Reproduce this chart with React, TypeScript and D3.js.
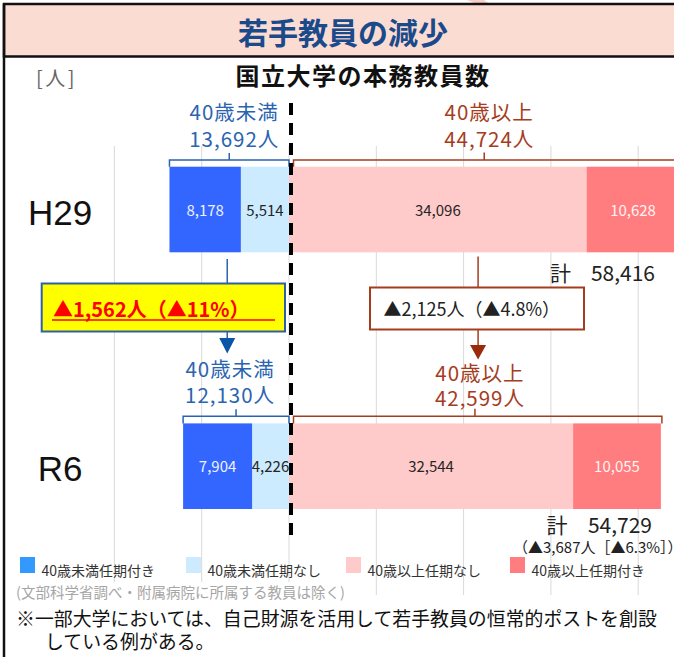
import React from "react";
import * as d3 from "d3";

// ---- data ----
const categories = ["H29", "R6"];
const under40Fixed = [8178, 7904]; // 40歳未満任期付き
const under40Perm = [5514, 4226]; // 40歳未満任期なし
const over40Perm = [34096, 32544]; // 40歳以上任期なし
const over40Fixed = [10628, 10055]; // 40歳以上任期付き
const under40Totals = [13692, 12130];
const over40Totals = [44724, 42599];
const grandTotals = [58416, 54729];
const gridTicks = [-20000, -10000, 0, 10000, 20000, 30000, 40000];
const legendLabels = ["40歳未満任期付き", "40歳未満任期なし", "40歳以上任期なし", "40歳以上任期付き"];
const under40Change = "▲1,562人（▲11%）";
const over40Change = "▲2,125人（▲4.8%）";
const totalChange = "（▲3,687人［▲6.3%］）";

// ---- styling / layout ----
const W = 674;
const H = 657;
const JP = "'Noto Sans CJK JP', 'Noto Sans', sans-serif";
const keys = ["u40perm", "u40fixed", "o40perm", "o40fixed"];
const barColors: Record<string, string> = {
  u40fixed: "#3366ff",
  u40perm: "#ccebff",
  o40perm: "#ffcaca",
  o40fixed: "#ff7c7f",
};
const labelColors: Record<string, string> = {
  u40fixed: "#eef2ff",
  u40perm: "#262626",
  o40perm: "#262626",
  o40fixed: "#fff4f4",
};
const legendKeys = ["u40fixed", "u40perm", "o40perm", "o40fixed"];
const legendColors = ["#3399ff", "#ccebff", "#ffcaca", "#ff7c7f"];
const legendX = [20, 186, 346, 510];
const BLUE = "#2a64b0";
const BROWN = "#a53c1e";
const fmt = d3.format(",");

export default function App() {
  const x = d3.scaleLinear().domain([0, 10000]).range([289, 376.3]);
  const y = d3.scalePoint<string>().domain(categories).range([209.5, 466.2]);
  const barH = 85.6;

  const rows = categories.map((c, i) => ({
    cat: c,
    u40perm: -under40Perm[i],
    u40fixed: -under40Fixed[i],
    o40perm: over40Perm[i],
    o40fixed: over40Fixed[i],
  }));
  const series = d3
    .stack<any>()
    .keys(keys)
    .offset(d3.stackOffsetDiverging)(rows);

  const zeroX = x(0);
  const u40Center = (i: number) => (x(-under40Totals[i]) + zeroX) / 2;
  const o40Center = (i: number) => (zeroX + x(over40Totals[i])) / 2;
  const bracketY = [160, 416.3];
  const groupLabelBase = [
    { u: [120, 146.5], o: [120, 146.5], du: 5, do: 5 },
    { u: [377, 403], o: [381, 406], du: -6, do: 5 },
  ];

  const blueX = u40Center(0) - 2;
  const brownX = (o40Center(0) + o40Center(1)) / 2 - 1.5;

  return (
    <svg
      width={W}
      height={H}
      style={{ position: "absolute", left: 0, top: 0, background: "#fff" }}
      fontFamily={JP}
    >
      {/* title box */}
      <polygon points="467,0 484,0 491,5 479,5" fill="#f8cfc6" />
      <rect x={4} y={4} width={W + 10} height={52.5} fill="#fbdcd3" stroke="#111" strokeWidth={2.5} />
      <text x={343} y={44} textAnchor="middle" fontSize={30} fontWeight={700} fill="#1b4a8a">
        若手教員の減少
      </text>
      <line x1={4} y1={4} x2={4} y2={H} stroke="#111" strokeWidth={2.5} />

      {/* chart title */}
      <text x={36} y={86} fontSize={20} fill="#666" letterSpacing={2.5}>
        [人]
      </text>
      <text x={363} y={85} textAnchor="middle" fontSize={24} fontWeight={700} fill="#111" letterSpacing={1.5}>
        国立大学の本務教員数
      </text>

      {/* gridlines */}
      {gridTicks.map((t) => (
        <line key={t} x1={x(t)} x2={x(t)} y1={146} y2={595} stroke="#d9d9d9" strokeWidth={1} />
      ))}

      {/* bars */}
      {series.map((s) =>
        s.map((d, i) => {
          const x0 = x(Math.min(d[0], d[1]));
          const x1 = x(Math.max(d[0], d[1]));
          const cy = y(categories[i])!;
          const val = Math.abs(d[1] - d[0]);
          return (
            <g key={s.key + i}>
              <rect x={x0} y={cy - barH / 2} width={x1 - x0} height={barH} fill={barColors[s.key]} />
              <text
                x={(x0 + x1) / 2}
                y={cy + 6}
                textAnchor="middle"
                fontSize={15}
                fill={labelColors[s.key]}
              >
                {fmt(val)}
              </text>
            </g>
          );
        })
      )}

      {/* brackets & group labels */}
      {categories.map((c, i) => {
        const by = bracketY[i];
        const top = y(c)! - barH / 2;
        const ux0 = x(-under40Totals[i]);
        const ox1 = x(over40Totals[i]) + 1;
        const ox0 = zeroX + 4.5;
        const uc = u40Center(i);
        const oc = o40Center(i);
        const lb = groupLabelBase[i];
        return (
          <g key={"br" + c}>
            <path
              d={`M${ux0},${top} V${by} H${zeroX} V${top} M${uc},${by} V${by - 7}`}
              fill="none"
              stroke={BLUE}
              strokeWidth={1.5}
            />
            <path
              d={`M${ox0},${top} V${by} H${ox1} V${top} M${oc},${by} V${by - 7.5}`}
              fill="none"
              stroke={BROWN}
              strokeWidth={1.5}
            />
            <text x={uc + lb.du} textAnchor="middle" fontSize={20.5} fill={BLUE} letterSpacing={1}>
              <tspan x={uc + lb.du} y={lb.u[0]}>40歳未満</tspan>
              <tspan x={uc + lb.du} y={lb.u[1]}>{fmt(under40Totals[i])}人</tspan>
            </text>
            <text x={oc + lb.do} textAnchor="middle" fontSize={20.5} fill={BROWN} letterSpacing={1}>
              <tspan x={oc + lb.do} y={lb.o[0]}>40歳以上</tspan>
              <tspan x={oc + lb.do} y={lb.o[1]}>{fmt(over40Totals[i])}人</tspan>
            </text>
            <text x={60} y={y(c)! + 15} textAnchor="middle" fontSize={35} fill="#111" fontFamily="'Liberation Sans', Arial, sans-serif">
              {c}
            </text>
          </g>
        );
      })}

      {/* totals */}
      <text x={550} y={281} fontSize={21} fill="#222">計</text>
      <text x={655} y={281} textAnchor="end" fontSize={21} fill="#222">{fmt(grandTotals[0])}</text>
      <text x={546.5} y={533} fontSize={21} fill="#222">計</text>
      <text x={652} y={533} textAnchor="end" fontSize={21} fill="#222">{fmt(grandTotals[1])}</text>
      <text x={513} y={553} fontSize={15} fill="#222">{totalChange}</text>

      {/* change annotations */}
      <line x1={blueX} x2={blueX} y1={259} y2={284} stroke={BLUE} strokeWidth={1.5} />
      <line x1={blueX} x2={blueX} y1={331} y2={340} stroke={BLUE} strokeWidth={1.5} />
      <path d={`M${blueX - 8},338 H${blueX + 8} L${blueX},353.5 Z`} fill="#0a55a8" />
      <rect x={41.7} y={283.5} width={243.3} height={48} fill="#ffff00" stroke="#2f5fa5" strokeWidth={2} />
      <text x={53} y={317} fontSize={20} fontWeight={700} fill="#ff0000">{under40Change}</text>
      <line x1={52} x2={275} y1={320} y2={320} stroke="#ff0000" strokeWidth={1.5} />

      <line x1={brownX} x2={brownX} y1={256.5} y2={288} stroke={BROWN} strokeWidth={1.5} />
      <line x1={brownX} x2={brownX} y1={329} y2={346} stroke={BROWN} strokeWidth={1.5} />
      <path d={`M${brownX - 8},345 H${brownX + 8} L${brownX},359.5 Z`} fill="#9a2a0c" />
      <rect x={370} y={287.5} width={214} height={42} fill="#fff" stroke={BROWN} strokeWidth={2} />
      <text x={383.5} y={316} fontSize={18} fill="#222">{over40Change}</text>

      {/* dashed divider */}
      <line x1={zeroX + 2} x2={zeroX + 2} y1={103} y2={540} stroke="#000" strokeWidth={4} strokeDasharray="12,8" />

      {/* legend */}
      {legendKeys.map((k, i) => (
        <g key={k}>
          <rect x={legendX[i]} y={557} width={15} height={16} fill={legendColors[i]} />
          <text x={legendX[i] + 21.5} y={576} fontSize={14} fill="#333">
            {legendLabels[i]}
          </text>
        </g>
      ))}

      {/* notes */}
      <rect x={14} y={582} width={332} height={19} fill="#fff" />
      <text x={16} y={598} fontSize={14.5} fill="#a6a6a6">
        (文部科学省調べ・附属病院に所属する教員は除く)
      </text>
      <text x={16} y={626} fontSize={18.9} fill="#111">
        ※一部大学においては、自己財源を活用して若手教員の恒常的ポストを創設
      </text>
      <text x={45} y={649} fontSize={18.9} fill="#111">
        している例がある。
      </text>
    </svg>
  );
}
